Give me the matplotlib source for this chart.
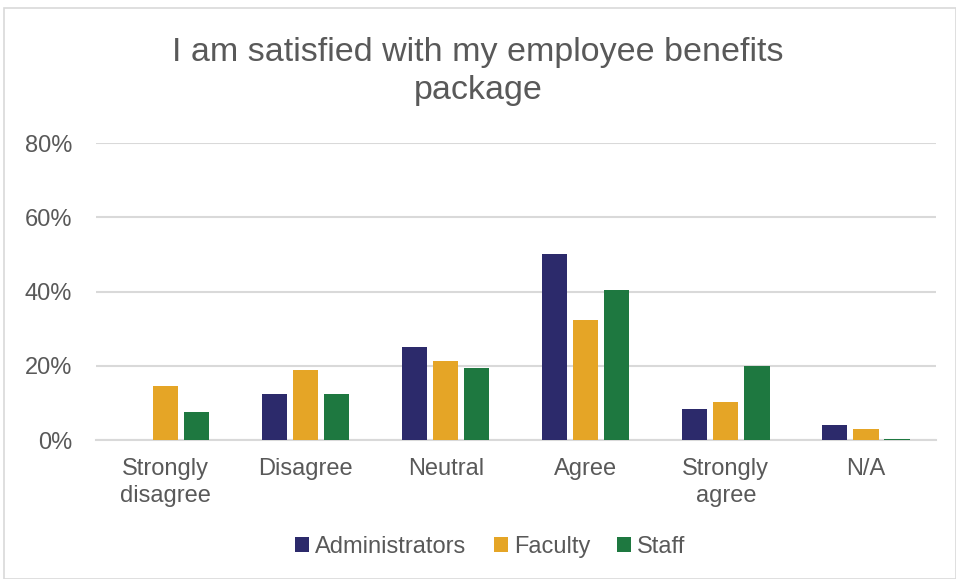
import numpy as np
import matplotlib.pyplot as plt
from matplotlib.patches import Rectangle

categories = ["Strongly\ndisagree", "Disagree", "Neutral", "Agree", "Strongly\nagree", "N/A"]
series_names = ["Administrators", "Faculty", "Staff"]
administrators = [0.0, 12.3, 25.0, 50.0, 8.4, 4.0]
faculty = [14.5, 18.8, 21.4, 32.3, 10.2, 2.9]
staff = [7.5, 12.3, 19.5, 40.3, 20.0, 0.4]
colors = ["#2c2a6b", "#e5a526", "#1e7840"]

plt.rcParams["font.family"] = ["Liberation Sans", "DejaVu Sans"]
text_color = "#595959"

fig = plt.figure(figsize=(9.56, 5.79), dpi=100)
fig.patches.append(Rectangle((0.004, 0.0), 0.996, 0.986, transform=fig.transFigure,
                             fill=False, edgecolor="#d9d9d9", linewidth=1.2))
ax = fig.add_axes([0.100, 0.240, 0.879, 0.513])

x = np.arange(len(categories))
width = 0.18
offset = 0.222
for i, (vals, name) in enumerate(zip([administrators, faculty, staff], series_names)):
    ax.bar(x + (i - 1) * offset, np.array(vals) / 100, width, color=colors[i], label=name, zorder=3)

ax.set_xlim(-0.5, len(categories) - 0.5)
ax.set_ylim(0, 0.8)
ax.set_yticks([0, 0.2, 0.4, 0.6, 0.8])
ax.set_yticklabels(["0%", "20%", "40%", "60%", "80%"])
ax.set_xticks(x)
ax.set_xticklabels(categories, linespacing=1.3)
ax.tick_params(axis="both", length=0, labelsize=17, colors=text_color)
ax.tick_params(axis="x", pad=13)
ax.tick_params(axis="y", pad=17)
ax.grid(axis="y", color="#d9d9d9", linewidth=1.5, zorder=0)
for s in ["top", "right", "left"]:
    ax.spines[s].set_visible(False)
ax.spines["bottom"].set_color("#d9d9d9")
ax.spines["bottom"].set_linewidth(1.5)

fig.text(0.5, 0.876, "I am satisfied with my employee benefits\npackage", ha="center", va="center",
         fontsize=24.5, color=text_color, linespacing=1.3)

fig.legend(loc="center", bbox_to_anchor=(0.513, 0.056), ncol=3, frameon=False, fontsize=17,
           handlelength=0.6, handleheight=0.6, handletextpad=0.25, columnspacing=1.15,
           labelcolor=text_color)

fig.savefig("out.png", dpi=100)
